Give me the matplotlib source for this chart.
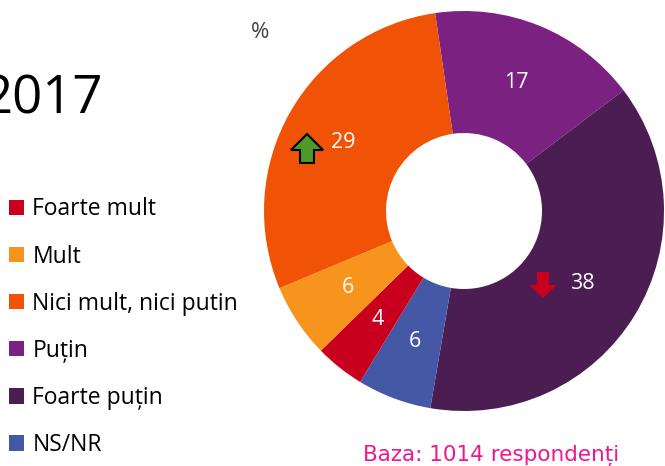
import numpy as np
import matplotlib
matplotlib.use('Agg')
import matplotlib.pyplot as plt
from matplotlib.patches import Patch, Polygon

plt.rcParams['font.family'] = ['Open Sans', 'DejaVu Sans']

# legend order
categories = ['Foarte mult', 'Mult', 'Nici mult, nici putin', 'Puțin', 'Foarte puțin', 'NS/NR']
values = [4, 6, 29, 17, 38, 6]
colors = ['#c8001e', '#f7941d', '#f05305', '#7b2182', '#4b1d52', '#4558a6']

# pie goes clockwise starting with "Puțin"
pie_order = [3, 4, 5, 0, 1, 2]
pie_vals = [values[i] for i in pie_order]
pie_cols = [colors[i] for i in pie_order]

W, H = 665, 466
fig = plt.figure(figsize=(W / 100, H / 100), dpi=100)

cx, cy, r = 464, 211, 200
ax = fig.add_axes([(cx - r) / W, (H - cy - r) / H, 2 * r / W, 2 * r / H])
wedges, texts, autotexts = ax.pie(
    pie_vals, colors=pie_cols, startangle=98.3, counterclock=False,
    radius=1, wedgeprops=dict(width=0.61, linewidth=0),
    autopct=lambda p: '%d' % round(p), pctdistance=0.695,
    textprops=dict(color='white', fontsize=15.5))
ax.set_xlim(-1, 1)
ax.set_ylim(-1, 1)
ax.axis('off')

def px(x, y):
    return ((x - cx) / r, (cy - y) / r)

# green up arrow next to 29
up = [(307, 134), (323, 150), (314, 150), (314, 163), (300, 163), (300, 150), (291, 150)]
ax.add_patch(Polygon([px(*p) for p in up], closed=True, facecolor='#4e9a28',
                     edgecolor='black', linewidth=1.5, zorder=5))
# red down arrow next to 38
down = [(537, 272), (549, 272), (549, 285), (557, 285), (543, 298), (529, 285), (537, 285)]
ax.add_patch(Polygon([px(*p) for p in down], closed=True, facecolor='#c8001e',
                     edgecolor='none', zorder=5))

handles = [Patch(facecolor=c, edgecolor='none') for c in colors]
fig.legend(handles, categories, loc='upper left', bbox_to_anchor=(-0.003, 1 - 186 / H),
           frameon=False, fontsize=16.5, handlelength=0.65, handleheight=0.65,
           handletextpad=0.35, labelspacing=1.01, borderaxespad=0, borderpad=0.5)

fig.text(103 / W, 1 - 100 / H, '2017', fontsize=38, ha='right', va='center', color='black')
fig.text(260 / W, 1 - 33 / H, '%', fontsize=16, ha='center', va='center', color='#404040')
fig.text(491 / W, 1 - 455 / H, 'Baza: 1014 respondenți', fontsize=15.5, ha='center',
         va='center', color='#f0168c', family='DejaVu Sans')

fig.savefig('out.png', dpi=100)
